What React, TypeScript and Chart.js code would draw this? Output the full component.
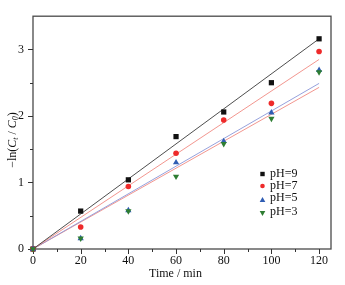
import React, { useEffect, useRef } from "react";
import { Chart, registerables } from "chart.js";
Chart.register(...registerables);

const times = [0, 20, 40, 60, 80, 100, 120];
const pH9 = [0, 0.57, 1.04, 1.69, 2.06, 2.5, 3.16];
const pH7 = [0, 0.33, 0.94, 1.44, 1.94, 2.19, 2.97];
const pH5 = [0, 0.16, 0.58, 1.3, 1.62, 2.05, 2.69];
const pH3 = [0, 0.16, 0.57, 1.09, 1.58, 1.96, 2.66];
const fitX = [0, 120];
const fit9 = [0, 3.16];
const fit7 = [0, 2.85];
const fit5 = [0, 2.49];
const fit3 = [0, 2.43];
const xTicks = [0, 20, 40, 60, 80, 100, 120];
const xMinor = [10, 30, 50, 70, 90, 110];
const yTicks = [0, 1, 2, 3];
const yMinor = [0.5, 1.5, 2.5];
const legendLabels = ["pH=9", "pH=7", "pH=5", "pH=3"];

const SERIF = "'Liberation Serif', 'Times New Roman', serif";
const markColors = ["#111111", "#ee2a2a", "#2f5db3", "#2e7d32"];
const fitColors = ["#3a3a3a", "#f08a82", "#8a96d8", "#f08a82"];
const styles = ["rect", "circle", "triangle", "triangle"];
const rotations = [0, 0, 0, 180];
const radii = [3.7, 2.8, 3.6, 3.6];

function pts(xs: number[], ys: number[]) {
  return xs.map((x, i) => ({ x, y: ys[i] }));
}

function drawMarker(ctx: CanvasRenderingContext2D, kind: number, x: number, y: number, s: number) {
  ctx.fillStyle = markColors[kind];
  ctx.beginPath();
  if (kind === 0) {
    ctx.rect(x - s, y - s, 2 * s, 2 * s);
  } else if (kind === 1) {
    ctx.arc(x, y, s, 0, Math.PI * 2);
  } else if (kind === 2) {
    ctx.moveTo(x, y - s * 1.1);
    ctx.lineTo(x + s, y + s * 0.7);
    ctx.lineTo(x - s, y + s * 0.7);
    ctx.closePath();
  } else {
    ctx.moveTo(x, y + s * 1.1);
    ctx.lineTo(x + s, y - s * 0.7);
    ctx.lineTo(x - s, y - s * 0.7);
    ctx.closePath();
  }
  ctx.fill();
}

export default function App() {
  const ref = useRef<HTMLCanvasElement>(null);
  useEffect(() => {
    const canvas = ref.current!;
    const framePlugin = {
      id: "frame",
      beforeDatasetsDraw(chart: any) {
        const { ctx, chartArea: a, scales } = chart;
        ctx.save();
        ctx.strokeStyle = "#4a4a4a";
        ctx.lineWidth = 1.3;
        ctx.strokeRect(a.left, a.top, a.right - a.left, a.bottom - a.top);
        ctx.strokeStyle = "#333";
        ctx.lineWidth = 1;
        ctx.beginPath();
        for (const v of xTicks) {
          const p = Math.round(scales.x.getPixelForValue(v)) + 0.5;
          ctx.moveTo(p, a.bottom);
          ctx.lineTo(p, a.bottom + 5);
        }
        for (const v of xMinor) {
          const p = Math.round(scales.x.getPixelForValue(v)) + 0.5;
          ctx.moveTo(p, a.bottom);
          ctx.lineTo(p, a.bottom + 3);
        }
        for (const v of yTicks) {
          const p = Math.round(scales.y.getPixelForValue(v)) + 0.5;
          ctx.moveTo(a.left, p);
          ctx.lineTo(a.left - 5, p);
        }
        for (const v of yMinor) {
          const p = Math.round(scales.y.getPixelForValue(v)) + 0.5;
          ctx.moveTo(a.left, p);
          ctx.lineTo(a.left - 3, p);
        }
        ctx.stroke();
        ctx.restore();
      },
      afterDraw(chart: any) {
        const { ctx } = chart;
        ctx.save();
        // legend
        const markY = [174, 186, 200, 213];
        const textY = [173.5, 185.5, 198, 212];
        for (let i = 0; i < 4; i++) {
          drawMarker(ctx, i, 262.5, markY[i], i === 0 ? 2.2 : i === 1 ? 2.3 : 2.8);
          ctx.fillStyle = "#111";
          ctx.font = `12px ${SERIF}`;
          ctx.textBaseline = "middle";
          ctx.textAlign = "left";
          ctx.fillText(legendLabels[i], 270, textY[i]);
        }
        // x title
        ctx.fillStyle = "#111";
        ctx.font = `12px ${SERIF}`;
        ctx.textAlign = "center";
        ctx.textBaseline = "middle";
        ctx.fillText("Time / min", 175.5, 274);
        // y title
        const parts: [string, string, boolean][] = [
          ["\u2212ln(", `12px ${SERIF}`, false],
          ["C", `italic 12px ${SERIF}`, false],
          ["t", `italic 8px ${SERIF}`, true],
          [" / ", `12px ${SERIF}`, false],
          ["C", `italic 12px ${SERIF}`, false],
          ["0", `italic 8px ${SERIF}`, true],
          [")", `12px ${SERIF}`, false],
        ];
        let total = 0;
        for (const [t, f] of parts) {
          ctx.font = f;
          total += ctx.measureText(t).width;
        }
        ctx.translate(12, 140);
        ctx.rotate(-Math.PI / 2);
        ctx.textAlign = "left";
        ctx.textBaseline = "alphabetic";
        let cx = -total / 2;
        for (const [t, f, sub] of parts) {
          ctx.font = f;
          ctx.fillText(t, cx, sub ? 6 : 4);
          cx += ctx.measureText(t).width;
        }
        ctx.restore();
      },
    };

    const series = [pH9, pH7, pH5, pH3];
    const fits = [fit9, fit7, fit5, fit3];
    const datasets: any[] = [];
    series.forEach((s, i) => {
      datasets.push({
        label: legendLabels[i],
        data: pts(times, s),
        showLine: false,
        pointStyle: styles[i],
        rotation: rotations[i],
        pointRadius: radii[i],
        pointBackgroundColor: markColors[i],
        pointBorderColor: markColors[i],
        pointBorderWidth: 0,
        clip: false,
        order: 3 - i,
      });
    });
    fits.forEach((f, i) => {
      datasets.push({
        label: "fit" + i,
        data: pts(fitX, f),
        showLine: true,
        borderColor: fitColors[i],
        borderWidth: 0.9,
        pointRadius: 0,
        clip: false,
        order: 10 + i,
      });
    });

    const chart = new Chart(canvas, {
      type: "scatter",
      data: { datasets },
      options: {
        animation: false,
        responsive: false,
        devicePixelRatio: 1,
        layout: { autoPadding: false, padding: { left: 0, top: 5, right: 14, bottom: 0 } },
        plugins: { legend: { display: false }, tooltip: { enabled: false } },
        scales: {
          x: {
            type: "linear",
            min: 0,
            max: 125,
            grid: { display: false, drawTicks: false },
            border: { display: false },
            afterBuildTicks: (s: any) => {
              s.ticks = xTicks.map((v) => ({ value: v }));
            },
            afterFit: (s: any) => {
              s.height = 36;
            },
            ticks: {
              padding: 5,
              color: "#111",
              font: { family: SERIF, size: 12 },
              maxRotation: 0,
              callback: (v: any) => String(v),
            },
          },
          y: {
            type: "linear",
            min: 0,
            max: 3.5,
            grid: { display: false, drawTicks: false },
            border: { display: false },
            afterBuildTicks: (s: any) => {
              s.ticks = yTicks.map((v) => ({ value: v }));
            },
            afterFit: (s: any) => {
              s.width = 33;
            },
            ticks: {
              padding: 9,
              color: "#111",
              font: { family: SERIF, size: 12 },
              callback: (v: any) => String(v),
            },
          },
        },
      } as any,
      plugins: [framePlugin],
    });
    return () => chart.destroy();
  }, []);

  return (
    <div style={{ position: "fixed", left: 0, top: 0, width: 345, height: 285, background: "#fff" }}>
      <canvas ref={ref} width={345} height={285} style={{ width: 345, height: 285, display: "block" }} />
    </div>
  );
}
